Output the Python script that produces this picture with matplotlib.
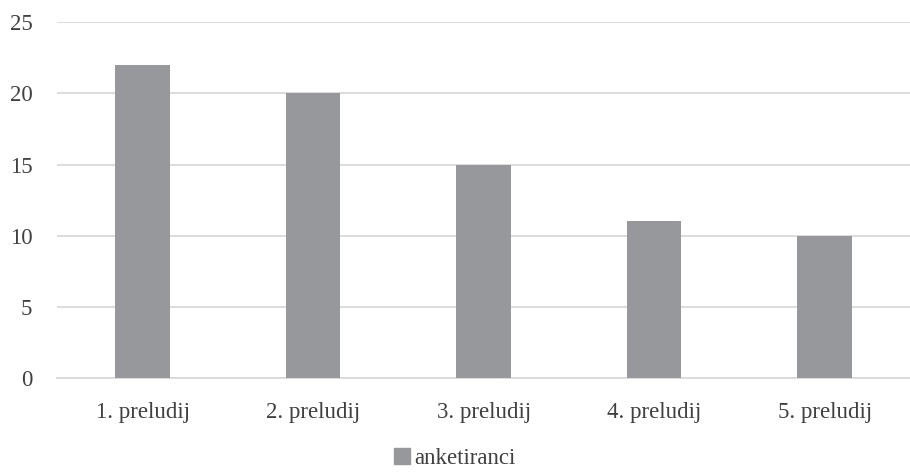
import matplotlib
matplotlib.use("Agg")
import matplotlib.pyplot as plt
from matplotlib.patches import Patch

categories = ["1. preludij", "2. preludij", "3. preludij", "4. preludij", "5. preludij"]
values = [22, 20, 15, 11, 10]
series_name = "anketiranci"

bar_color = "#97989c"
text_color = "#404040"
grid_color = "#d9d9d9"

plt.rcParams['font.family'] = ['Liberation Serif', 'DejaVu Serif']

fig = plt.figure(figsize=(9.1, 4.72), dpi=100)
ax = fig.add_axes([0.063, 0.199, 0.937, 0.754])

x = range(len(categories))
ax.bar(x, values, width=0.32, color=bar_color, zorder=3)

ax.set_ylim(0, 25)
ax.set_xlim(-0.5, len(categories) - 0.5)
ax.set_yticks([0, 5, 10, 15, 20, 25])
ax.set_xticks(list(x))
ax.set_xticklabels(categories)
ax.yaxis.grid(True, color=grid_color, linewidth=1.3, zorder=0)
ax.tick_params(axis='both', length=0, labelsize=16.5, labelcolor=text_color)
ax.tick_params(axis='y', pad=18)
ax.tick_params(axis='x', pad=17)
for side in ['top', 'right', 'left']:
    ax.spines[side].set_visible(False)
ax.spines['bottom'].set_color(grid_color)
ax.spines['bottom'].set_linewidth(1.3)

handle = Patch(color=bar_color, label=series_name)
fig.legend(handles=[handle], loc='lower center', bbox_to_anchor=(0.5, -0.038),
           frameon=False, fontsize=16.5, labelcolor=text_color,
           handlelength=0.7, handleheight=0.7, handletextpad=0.2)

fig.savefig("out.png", dpi=100)
